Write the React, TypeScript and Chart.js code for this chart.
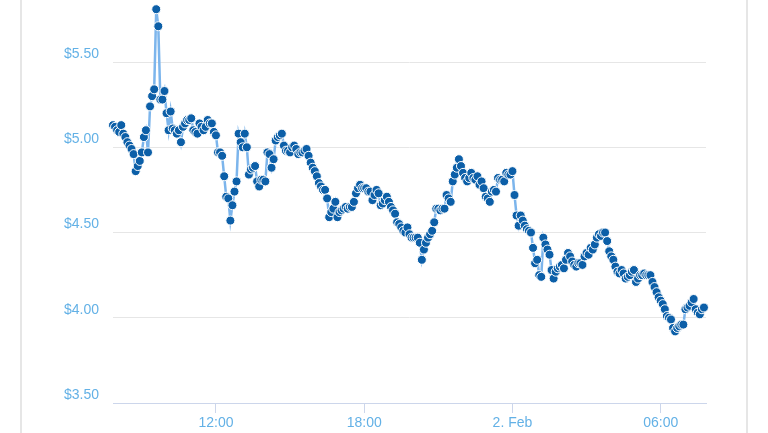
import React, { useEffect, useRef } from "react";
import { Chart, registerables } from "chart.js";

Chart.register(...registerables);

// Price samples every 5 minutes, starting 1 Feb 07:50
const STEP_MINUTES = 5;

const pricesMorning = [
  5.13, 5.12, 5.10, 5.09, 5.13, 5.08, 5.06, 5.03, 5.01, 4.99,
  4.96, 4.86, 4.89, 4.92, 4.97, 5.06, 5.10, 4.97, 5.24, 5.30,
  5.34, 5.81, 5.71, 5.28, 5.28, 5.33, 5.20, 5.10, 5.21, 5.11,
  5.10, 5.08, 5.10, 5.03, 5.12, 5.14, 5.16, 5.16, 5.17, 5.10,
  5.09, 5.08, 5.14, 5.12, 5.10, 5.12, 5.16, 5.14, 5.14, 5.09,
  5.07, 4.97, 4.97, 4.95, 4.83, 4.71, 4.70, 4.57, 4.66, 4.74,
  4.80, 5.08, 5.03, 5.00, 5.08, 5.00, 4.84, 4.87, 4.88, 4.89,
  4.80, 4.77,
];

const pricesAfternoon = [
  4.81, 4.81, 4.80, 4.97, 4.96, 4.88, 4.93, 5.04,
  5.06, 5.07, 5.08, 5.01, 4.98, 4.98, 4.97, 5.00, 5.01, 4.99,
  4.96, 4.97, 4.97, 4.98, 4.99, 4.95, 4.91, 4.88, 4.86, 4.83,
  4.79, 4.77, 4.75, 4.75, 4.70, 4.59, 4.62, 4.64, 4.68, 4.59,
  4.62, 4.63, 4.64, 4.65, 4.64, 4.65, 4.65, 4.68, 4.73, 4.76,
  4.78, 4.76, 4.76, 4.76, 4.74, 4.74, 4.69, 4.72, 4.75, 4.73,
  4.66, 4.67, 4.69, 4.71, 4.68, 4.65, 4.63, 4.61, 4.56, 4.55,
  4.53, 4.51, 4.50, 4.53,
];

const pricesNight = [
  4.49, 4.47, 4.47, 4.47, 4.47, 4.44,
  4.34, 4.40, 4.44, 4.47, 4.49, 4.51, 4.56, 4.64, 4.64, 4.63,
  4.64, 4.64, 4.72, 4.70, 4.68, 4.80, 4.84, 4.88, 4.93, 4.89,
  4.85, 4.82, 4.80, 4.82, 4.85, 4.82, 4.81, 4.83, 4.78, 4.80,
  4.76, 4.71, 4.70, 4.68, 4.74, 4.75, 4.74, 4.82, 4.81, 4.81,
  4.80, 4.85, 4.84, 4.84, 4.86, 4.72, 4.60, 4.54, 4.60, 4.57,
  4.54, 4.52, 4.51, 4.50, 4.41, 4.32, 4.34, 4.25, 4.24, 4.47,
  4.43, 4.40, 4.37, 4.28, 4.23, 4.27,
];

const pricesEarly = [
  4.29, 4.30, 4.31, 4.29,
  4.34, 4.38, 4.36, 4.33, 4.31, 4.30, 4.32, 4.32, 4.31, 4.36,
  4.38, 4.37, 4.41, 4.40, 4.43, 4.47, 4.49, 4.48, 4.50, 4.50,
  4.45, 4.39, 4.36, 4.34, 4.30, 4.27, 4.26, 4.28, 4.26, 4.23,
  4.24, 4.25, 4.27, 4.28, 4.21, 4.23, 4.25, 4.25, 4.26, 4.25,
  4.25, 4.25, 4.21, 4.18, 4.15, 4.12, 4.10, 4.08, 4.05, 4.01,
  4.00, 3.99, 3.94, 3.92, 3.94, 3.95, 3.96, 3.96, 4.05, 4.06,
  4.07, 4.09, 4.11, 4.05, 4.03, 4.02, 4.05, 4.06,
];

const prices = [...pricesMorning, ...pricesAfternoon, ...pricesNight, ...pricesEarly];

// X axis: minutes since 07:50 on 1 Feb
const xRangeMinutes = 1440;
const xTickMinutes = [250, 610, 970, 1330];
const xTickLabels = ["12:00", "18:00", "2. Feb", "06:00"];

// Y axis
const yMin = 3.5;
const yMax = 5.864;
const yTickValues = [3.5, 4.0, 4.5, 5.0, 5.5];

const LABEL_COLOR = "#63b1e6";
const FONT = "'Liberation Sans', Arial, sans-serif";

export default function App() {
  const canvasRef = useRef<HTMLCanvasElement | null>(null);

  useEffect(() => {
    const canvas = canvasRef.current;
    if (!canvas) return;
    const points = prices.map((v, i) => ({ x: i * STEP_MINUTES, y: v }));

    const chart = new Chart(canvas, {
      type: "line",
      data: {
        datasets: [
          {
            data: points,
            borderColor: "#7cb5ec",
            borderWidth: 2.5,
            pointRadius: 4.5,
            pointBackgroundColor: "#0c5fa8",
            pointBorderColor: "#ffffff",
            pointBorderWidth: 1,
            tension: 0,
            fill: false,
            clip: false as any,
          },
        ],
      },
      options: {
        responsive: false,
        animation: false,
        devicePixelRatio: 1,
        events: [],
        layout: { autoPadding: false, padding: { left: 0, right: 62, top: 0, bottom: 0 } },
        plugins: {
          legend: { display: false },
          tooltip: { enabled: false },
        },
        scales: {
          x: {
            type: "linear",
            min: 0,
            max: xRangeMinutes,
            afterBuildTicks: (s: any) => {
              s.ticks = xTickMinutes.map((v) => ({ value: v }));
            },
            afterFit: (s: any) => {
              s.height = 30;
              s.paddingLeft = 0;
              s.paddingRight = 0;
            },
            ticks: {
              callback: (v: any) => {
                const k = xTickMinutes.indexOf(Number(v));
                return k >= 0 ? xTickLabels[k] : "";
              },
              color: LABEL_COLOR,
              font: { size: 14, family: FONT },
              padding: 2,
              maxRotation: 0,
              autoSkip: false,
            },
            grid: {
              drawOnChartArea: false,
              drawTicks: true,
              tickLength: 10,
              color: "#ccd6eb",
              lineWidth: 1,
            },
            border: { display: true, color: "#ccd6eb", width: 1 },
          },
          y: {
            type: "linear",
            min: yMin,
            max: yMax,
            afterBuildTicks: (s: any) => {
              s.ticks = yTickValues.map((v) => ({ value: v }));
            },
            afterFit: (s: any) => {
              s.width = 113;
              s.paddingTop = 0;
              s.paddingBottom = 0;
            },
            ticks: {
              callback: (v: any) => "$" + Number(v).toFixed(2),
              color: LABEL_COLOR,
              font: { size: 14, family: FONT },
              padding: 14,
              labelOffset: -8,
            },
            grid: {
              color: (ctx: any) =>
                ctx.tick && ctx.tick.value === yMin ? "#ccd6eb" : "#e6e6e6",
              drawTicks: false,
              lineWidth: 1,
            },
            border: { display: false },
          },
        },
      },
    });

    return () => chart.destroy();
  }, []);

  return (
    <div
      style={{
        position: "absolute",
        left: 0,
        top: 0,
        width: 768,
        height: 433,
        background: "#ffffff",
        overflow: "hidden",
      }}
    >
      <div style={{ position: "absolute", left: 20, top: 0, width: 2, height: 433, background: "#e6e6e6" }} />
      <div style={{ position: "absolute", left: 746, top: 0, width: 2, height: 433, background: "#e6e6e6" }} />
      <canvas
        ref={canvasRef}
        width={768}
        height={433}
        style={{ position: "absolute", left: 0, top: 0, width: 768, height: 433, display: "block" }}
      />
    </div>
  );
}
